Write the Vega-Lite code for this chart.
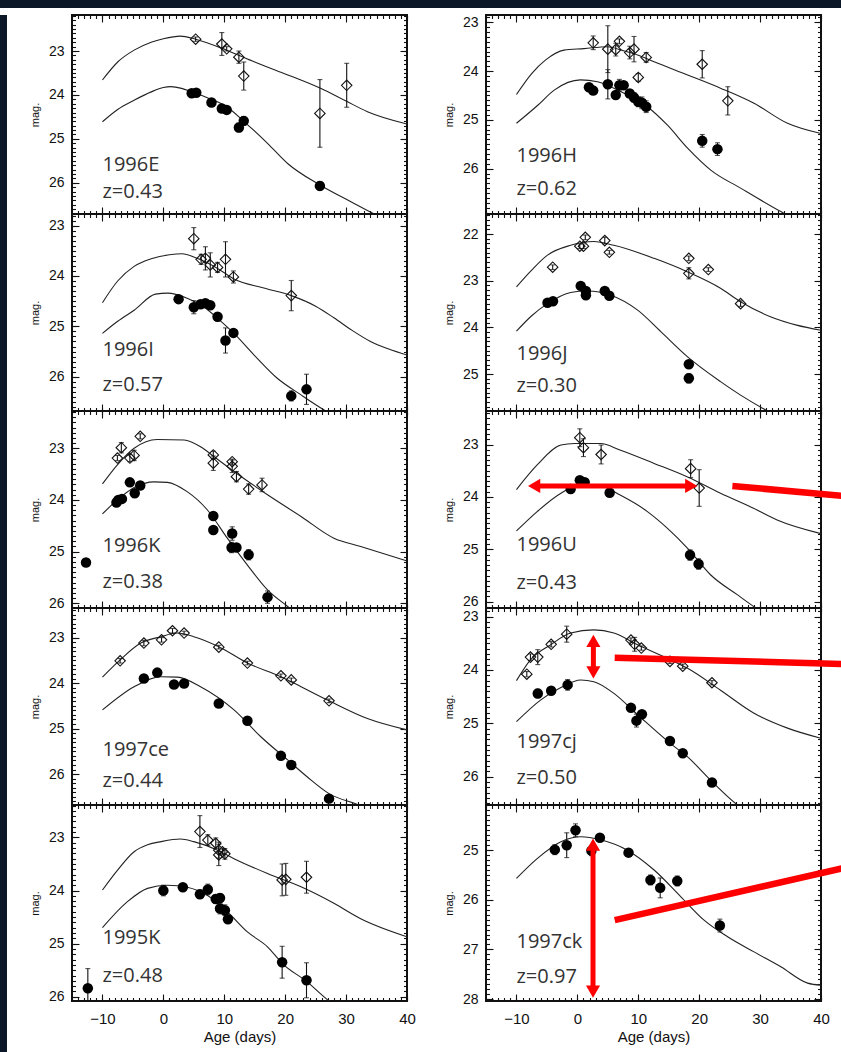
{
  "$schema": "https://vega.github.io/schema/vega-lite/v6.json",
  "background": "white",
  "padding": 0,
  "bounds": "flush",
  "spacing": 7,
  "config": {
    "view": {"stroke": "#111", "strokeWidth": 2},
    "axis": {"domain": false, "grid": false, "labelOverlap": false, "labelFlush": false, "labelBound": false, "tickColor": "#111", "tickWidth": 1.1, "labelFont": "Liberation Sans", "labelFontSize": 14, "labelColor": "#111", "titleFont": "Liberation Sans", "titleFontSize": 11, "titleFontWeight": "normal", "titleColor": "#111"}
  },
  "datasets": {
    "obs": [
      {"sn":"1996E","band":"u","age":5.3,"mag":22.73,"err":0.05},{"sn":"1996E","band":"u","age":9.6,"mag":22.84,"err":0.26},{"sn":"1996E","band":"u","age":10.4,"mag":22.95,"err":0.05},{"sn":"1996E","band":"u","age":12.4,"mag":23.14,"err":0.14},{"sn":"1996E","band":"u","age":13.2,"mag":23.57,"err":0.32},{"sn":"1996E","band":"u","age":25.7,"mag":24.42,"err":0.77},{"sn":"1996E","band":"u","age":30.1,"mag":23.78,"err":0.5},
      {"sn":"1996E","band":"l","age":4.65,"mag":23.96,"err":0.05},{"sn":"1996E","band":"l","age":5.4,"mag":23.95,"err":0.05},{"sn":"1996E","band":"l","age":7.9,"mag":24.17,"err":0},{"sn":"1996E","band":"l","age":9.6,"mag":24.31,"err":0.05},{"sn":"1996E","band":"l","age":10.4,"mag":24.34,"err":0.05},{"sn":"1996E","band":"l","age":12.4,"mag":24.74,"err":0.1},{"sn":"1996E","band":"l","age":13.2,"mag":24.59,"err":0.1},{"sn":"1996E","band":"l","age":25.7,"mag":26.07,"err":0.1},
      {"sn":"1996H","band":"u","age":2.6,"mag":23.42,"err":0.14},{"sn":"1996H","band":"u","age":5.0,"mag":23.55,"err":0.48},{"sn":"1996H","band":"u","age":6.3,"mag":23.56,"err":0.13},{"sn":"1996H","band":"u","age":6.9,"mag":23.39,"err":0.05},{"sn":"1996H","band":"u","age":8.6,"mag":23.62,"err":0.13},{"sn":"1996H","band":"u","age":9.3,"mag":23.55,"err":0.26},{"sn":"1996H","band":"u","age":10.0,"mag":24.13,"err":0.08},{"sn":"1996H","band":"u","age":11.3,"mag":23.72,"err":0.1},{"sn":"1996H","band":"u","age":20.5,"mag":23.86,"err":0.28},{"sn":"1996H","band":"u","age":24.7,"mag":24.61,"err":0.29},
      {"sn":"1996H","band":"l","age":1.9,"mag":24.33,"err":0.06},{"sn":"1996H","band":"l","age":2.6,"mag":24.4,"err":0.05},{"sn":"1996H","band":"l","age":5.0,"mag":24.27,"err":0.3},{"sn":"1996H","band":"l","age":6.3,"mag":24.49,"err":0.05},{"sn":"1996H","band":"l","age":6.9,"mag":24.29,"err":0.12},{"sn":"1996H","band":"l","age":7.6,"mag":24.29,"err":0.05},{"sn":"1996H","band":"l","age":8.6,"mag":24.46,"err":0.05},{"sn":"1996H","band":"l","age":9.3,"mag":24.54,"err":0.1},{"sn":"1996H","band":"l","age":10.0,"mag":24.63,"err":0.1},{"sn":"1996H","band":"l","age":10.6,"mag":24.65,"err":0.12},{"sn":"1996H","band":"l","age":11.3,"mag":24.73,"err":0.12},{"sn":"1996H","band":"l","age":20.5,"mag":25.43,"err":0.13},{"sn":"1996H","band":"l","age":23.0,"mag":25.6,"err":0.13},
      {"sn":"1996I","band":"u","age":5.0,"mag":23.26,"err":0.22},{"sn":"1996I","band":"u","age":6.2,"mag":23.67,"err":0.1},{"sn":"1996I","band":"u","age":6.9,"mag":23.65,"err":0.23},{"sn":"1996I","band":"u","age":7.7,"mag":23.78,"err":0.24},{"sn":"1996I","band":"u","age":8.9,"mag":23.83,"err":0.1},{"sn":"1996I","band":"u","age":10.2,"mag":23.67,"err":0.35},{"sn":"1996I","band":"u","age":11.5,"mag":24.02,"err":0.12},{"sn":"1996I","band":"u","age":21.0,"mag":24.39,"err":0.3},
      {"sn":"1996I","band":"l","age":2.5,"mag":24.46,"err":0},{"sn":"1996I","band":"l","age":5.0,"mag":24.62,"err":0.13},{"sn":"1996I","band":"l","age":6.1,"mag":24.56,"err":0},{"sn":"1996I","band":"l","age":6.9,"mag":24.54,"err":0},{"sn":"1996I","band":"l","age":7.7,"mag":24.58,"err":0},{"sn":"1996I","band":"l","age":8.9,"mag":24.81,"err":0.08},{"sn":"1996I","band":"l","age":10.2,"mag":25.28,"err":0.25},{"sn":"1996I","band":"l","age":11.5,"mag":25.13,"err":0},{"sn":"1996I","band":"l","age":21.0,"mag":26.38,"err":0.1},{"sn":"1996I","band":"l","age":23.5,"mag":26.25,"err":0.3},
      {"sn":"1996J","band":"u","age":-4.05,"mag":22.71,"err":0.05},{"sn":"1996J","band":"u","age":0.4,"mag":22.26,"err":0.05},{"sn":"1996J","band":"u","age":1.0,"mag":22.26,"err":0.05},{"sn":"1996J","band":"u","age":1.3,"mag":22.07,"err":0.05},{"sn":"1996J","band":"u","age":4.5,"mag":22.14,"err":0.07},{"sn":"1996J","band":"u","age":5.25,"mag":22.39,"err":0.04},{"sn":"1996J","band":"u","age":18.3,"mag":22.52,"err":0.05},{"sn":"1996J","band":"u","age":18.3,"mag":22.84,"err":0.12},{"sn":"1996J","band":"u","age":21.5,"mag":22.76,"err":0.04},{"sn":"1996J","band":"u","age":26.8,"mag":23.49,"err":0.06},
      {"sn":"1996J","band":"l","age":-4.9,"mag":23.47,"err":0},{"sn":"1996J","band":"l","age":-4.0,"mag":23.44,"err":0},{"sn":"1996J","band":"l","age":0.55,"mag":23.11,"err":0},{"sn":"1996J","band":"l","age":1.4,"mag":23.22,"err":0},{"sn":"1996J","band":"l","age":1.4,"mag":23.31,"err":0},{"sn":"1996J","band":"l","age":4.5,"mag":23.22,"err":0},{"sn":"1996J","band":"l","age":5.25,"mag":23.32,"err":0},{"sn":"1996J","band":"l","age":18.3,"mag":24.79,"err":0},{"sn":"1996J","band":"l","age":18.3,"mag":25.09,"err":0.1},
      {"sn":"1996K","band":"u","age":-7.55,"mag":23.19,"err":0.05},{"sn":"1996K","band":"u","age":-6.9,"mag":22.99,"err":0.1},{"sn":"1996K","band":"u","age":-5.5,"mag":23.19,"err":0.07},{"sn":"1996K","band":"u","age":-4.8,"mag":23.14,"err":0.1},{"sn":"1996K","band":"u","age":-3.8,"mag":22.77,"err":0.05},{"sn":"1996K","band":"u","age":8.2,"mag":23.13,"err":0.07},{"sn":"1996K","band":"u","age":8.2,"mag":23.29,"err":0.14},{"sn":"1996K","band":"u","age":11.3,"mag":23.26,"err":0.05},{"sn":"1996K","band":"u","age":11.3,"mag":23.35,"err":0.12},{"sn":"1996K","band":"u","age":12.0,"mag":23.55,"err":0.1},{"sn":"1996K","band":"u","age":14.0,"mag":23.79,"err":0.1},{"sn":"1996K","band":"u","age":16.2,"mag":23.71,"err":0.13},
      {"sn":"1996K","band":"l","age":-12.7,"mag":25.21,"err":0},{"sn":"1996K","band":"l","age":-7.7,"mag":24.05,"err":0},{"sn":"1996K","band":"l","age":-7.4,"mag":24.0,"err":0},{"sn":"1996K","band":"l","age":-6.8,"mag":23.98,"err":0},{"sn":"1996K","band":"l","age":-5.5,"mag":23.66,"err":0},{"sn":"1996K","band":"l","age":-4.7,"mag":23.87,"err":0},{"sn":"1996K","band":"l","age":-3.8,"mag":23.72,"err":0},{"sn":"1996K","band":"l","age":8.2,"mag":24.31,"err":0},{"sn":"1996K","band":"l","age":8.2,"mag":24.58,"err":0},{"sn":"1996K","band":"l","age":11.3,"mag":24.65,"err":0.13},{"sn":"1996K","band":"l","age":11.2,"mag":24.92,"err":0.1},{"sn":"1996K","band":"l","age":12.0,"mag":24.92,"err":0},{"sn":"1996K","band":"l","age":14.0,"mag":25.06,"err":0.1},{"sn":"1996K","band":"l","age":17.1,"mag":25.88,"err":0.12},
      {"sn":"1996U","band":"u","age":0.4,"mag":22.87,"err":0.17},{"sn":"1996U","band":"u","age":1.0,"mag":23.06,"err":0.17},{"sn":"1996U","band":"u","age":3.9,"mag":23.19,"err":0.18},{"sn":"1996U","band":"u","age":18.6,"mag":23.46,"err":0.17},{"sn":"1996U","band":"u","age":20.0,"mag":23.83,"err":0.35},
      {"sn":"1996U","band":"l","age":-1.1,"mag":23.85,"err":0},{"sn":"1996U","band":"l","age":0.4,"mag":23.68,"err":0},{"sn":"1996U","band":"l","age":1.2,"mag":23.72,"err":0},{"sn":"1996U","band":"l","age":5.3,"mag":23.92,"err":0},{"sn":"1996U","band":"l","age":18.5,"mag":25.11,"err":0.1},{"sn":"1996U","band":"l","age":19.9,"mag":25.28,"err":0.1},
      {"sn":"1997ce","band":"u","age":-7.1,"mag":23.51,"err":0.05},{"sn":"1997ce","band":"u","age":-3.2,"mag":23.12,"err":0.06},{"sn":"1997ce","band":"u","age":-0.3,"mag":23.05,"err":0.05},{"sn":"1997ce","band":"u","age":1.5,"mag":22.85,"err":0.05},{"sn":"1997ce","band":"u","age":3.4,"mag":22.9,"err":0.04},{"sn":"1997ce","band":"u","age":9.1,"mag":23.21,"err":0.04},{"sn":"1997ce","band":"u","age":13.8,"mag":23.56,"err":0.04},{"sn":"1997ce","band":"u","age":19.3,"mag":23.84,"err":0.04},{"sn":"1997ce","band":"u","age":21.0,"mag":23.93,"err":0.04},{"sn":"1997ce","band":"u","age":27.2,"mag":24.39,"err":0.04},
      {"sn":"1997ce","band":"l","age":-3.2,"mag":23.9,"err":0},{"sn":"1997ce","band":"l","age":-1.0,"mag":23.77,"err":0},{"sn":"1997ce","band":"l","age":1.75,"mag":24.03,"err":0},{"sn":"1997ce","band":"l","age":3.4,"mag":24.01,"err":0},{"sn":"1997ce","band":"l","age":9.1,"mag":24.45,"err":0},{"sn":"1997ce","band":"l","age":13.8,"mag":24.83,"err":0},{"sn":"1997ce","band":"l","age":19.3,"mag":25.6,"err":0},{"sn":"1997ce","band":"l","age":21.0,"mag":25.8,"err":0},{"sn":"1997ce","band":"l","age":27.2,"mag":26.54,"err":0},
      {"sn":"1997cj","band":"u","age":-8.3,"mag":24.08,"err":0.05},{"sn":"1997cj","band":"u","age":-7.7,"mag":23.76,"err":0.06},{"sn":"1997cj","band":"u","age":-6.5,"mag":23.76,"err":0.14},{"sn":"1997cj","band":"u","age":-4.3,"mag":23.52,"err":0.05},{"sn":"1997cj","band":"u","age":-1.75,"mag":23.33,"err":0.15},{"sn":"1997cj","band":"u","age":8.8,"mag":23.44,"err":0.04},{"sn":"1997cj","band":"u","age":9.4,"mag":23.52,"err":0.13},{"sn":"1997cj","band":"u","age":10.5,"mag":23.59,"err":0.04},{"sn":"1997cj","band":"u","age":15.2,"mag":23.84,"err":0.04},{"sn":"1997cj","band":"u","age":17.3,"mag":23.93,"err":0.04},{"sn":"1997cj","band":"u","age":22.1,"mag":24.24,"err":0.04},
      {"sn":"1997cj","band":"l","age":-6.5,"mag":24.44,"err":0.08},{"sn":"1997cj","band":"l","age":-4.3,"mag":24.39,"err":0},{"sn":"1997cj","band":"l","age":-1.6,"mag":24.28,"err":0.1},{"sn":"1997cj","band":"l","age":8.8,"mag":24.71,"err":0},{"sn":"1997cj","band":"l","age":9.7,"mag":24.95,"err":0.12},{"sn":"1997cj","band":"l","age":10.6,"mag":24.83,"err":0},{"sn":"1997cj","band":"l","age":15.2,"mag":25.33,"err":0},{"sn":"1997cj","band":"l","age":17.3,"mag":25.56,"err":0},{"sn":"1997cj","band":"l","age":22.1,"mag":26.11,"err":0},
      {"sn":"1995K","band":"u","age":6.0,"mag":22.89,"err":0.3},{"sn":"1995K","band":"u","age":7.3,"mag":23.05,"err":0.1},{"sn":"1995K","band":"u","age":8.6,"mag":23.11,"err":0.1},{"sn":"1995K","band":"u","age":9.1,"mag":23.24,"err":0.15},{"sn":"1995K","band":"u","age":9.1,"mag":23.33,"err":0.2},{"sn":"1995K","band":"u","age":9.7,"mag":23.27,"err":0.05},{"sn":"1995K","band":"u","age":10.1,"mag":23.31,"err":0.1},{"sn":"1995K","band":"u","age":19.5,"mag":23.8,"err":0.3},{"sn":"1995K","band":"u","age":20.1,"mag":23.79,"err":0.3},{"sn":"1995K","band":"u","age":23.5,"mag":23.75,"err":0.3},
      {"sn":"1995K","band":"l","age":-12.4,"mag":25.84,"err":0.37},{"sn":"1995K","band":"l","age":0.0,"mag":24.0,"err":0.1},{"sn":"1995K","band":"l","age":3.2,"mag":23.94,"err":0},{"sn":"1995K","band":"l","age":6.0,"mag":24.07,"err":0.08},{"sn":"1995K","band":"l","age":7.3,"mag":23.98,"err":0.1},{"sn":"1995K","band":"l","age":8.6,"mag":24.16,"err":0.08},{"sn":"1995K","band":"l","age":9.3,"mag":24.14,"err":0.08},{"sn":"1995K","band":"l","age":9.3,"mag":24.34,"err":0.1},{"sn":"1995K","band":"l","age":10.1,"mag":24.37,"err":0.1},{"sn":"1995K","band":"l","age":10.6,"mag":24.54,"err":0.05},{"sn":"1995K","band":"l","age":19.5,"mag":25.35,"err":0.3},{"sn":"1995K","band":"l","age":23.5,"mag":25.69,"err":0.33},
      {"sn":"1997ck","band":"l","age":-3.7,"mag":24.99,"err":0.1},{"sn":"1997ck","band":"l","age":-1.75,"mag":24.9,"err":0.25},{"sn":"1997ck","band":"l","age":-0.3,"mag":24.6,"err":0.13},{"sn":"1997ck","band":"l","age":2.3,"mag":25.01,"err":0.1},{"sn":"1997ck","band":"l","age":3.7,"mag":24.75,"err":0},{"sn":"1997ck","band":"l","age":8.4,"mag":25.05,"err":0},{"sn":"1997ck","band":"l","age":12.0,"mag":25.6,"err":0.1},{"sn":"1997ck","band":"l","age":13.6,"mag":25.76,"err":0.2},{"sn":"1997ck","band":"l","age":16.4,"mag":25.62,"err":0.1},{"sn":"1997ck","band":"l","age":23.4,"mag":26.52,"err":0.13}
    ],
    "model": [
      {"sn":"1996E","band":"u","age":-10,"mag":23.66},{"sn":"1996E","band":"u","age":-7.5,"mag":23.25},{"sn":"1996E","band":"u","age":-4.8,"mag":22.98},{"sn":"1996E","band":"u","age":-2,"mag":22.8},{"sn":"1996E","band":"u","age":0,"mag":22.72},{"sn":"1996E","band":"u","age":2.8,"mag":22.66},{"sn":"1996E","band":"u","age":5.3,"mag":22.73},{"sn":"1996E","band":"u","age":10.4,"mag":22.98},{"sn":"1996E","band":"u","age":15,"mag":23.25},{"sn":"1996E","band":"u","age":19.8,"mag":23.51},{"sn":"1996E","band":"u","age":25.8,"mag":23.85},{"sn":"1996E","band":"u","age":30,"mag":24.14},{"sn":"1996E","band":"u","age":33.5,"mag":24.38},{"sn":"1996E","band":"u","age":40,"mag":24.66},
      {"sn":"1996E","band":"l","age":-10,"mag":24.61},{"sn":"1996E","band":"l","age":-7.5,"mag":24.33},{"sn":"1996E","band":"l","age":-4.8,"mag":24.12},{"sn":"1996E","band":"l","age":-2,"mag":23.93},{"sn":"1996E","band":"l","age":0,"mag":23.83},{"sn":"1996E","band":"l","age":1.2,"mag":23.81},{"sn":"1996E","band":"l","age":3,"mag":23.85},{"sn":"1996E","band":"l","age":4.65,"mag":23.93},{"sn":"1996E","band":"l","age":7.5,"mag":24.08},{"sn":"1996E","band":"l","age":10.4,"mag":24.27},{"sn":"1996E","band":"l","age":13.2,"mag":24.6},{"sn":"1996E","band":"l","age":17.1,"mag":25.1},{"sn":"1996E","band":"l","age":20.4,"mag":25.56},{"sn":"1996E","band":"l","age":25.7,"mag":26.05},{"sn":"1996E","band":"l","age":30.8,"mag":26.43},{"sn":"1996E","band":"l","age":35.1,"mag":26.74},{"sn":"1996E","band":"l","age":40,"mag":27.0},
      {"sn":"1996H","band":"u","age":-10,"mag":24.48},{"sn":"1996H","band":"u","age":-7.5,"mag":24.05},{"sn":"1996H","band":"u","age":-5.2,"mag":23.77},{"sn":"1996H","band":"u","age":-2.2,"mag":23.57},{"sn":"1996H","band":"u","age":1.1,"mag":23.54},{"sn":"1996H","band":"u","age":4.9,"mag":23.5},{"sn":"1996H","band":"u","age":7.5,"mag":23.58},{"sn":"1996H","band":"u","age":9.9,"mag":23.67},{"sn":"1996H","band":"u","age":12.6,"mag":23.81},{"sn":"1996H","band":"u","age":18.1,"mag":24.08},{"sn":"1996H","band":"u","age":23.5,"mag":24.35},{"sn":"1996H","band":"u","age":29,"mag":24.66},{"sn":"1996H","band":"u","age":34.5,"mag":25.07},{"sn":"1996H","band":"u","age":40,"mag":25.28},
      {"sn":"1996H","band":"l","age":-10,"mag":25.07},{"sn":"1996H","band":"l","age":-6.5,"mag":24.7},{"sn":"1996H","band":"l","age":-3.8,"mag":24.39},{"sn":"1996H","band":"l","age":0.5,"mag":24.18},{"sn":"1996H","band":"l","age":3.3,"mag":24.22},{"sn":"1996H","band":"l","age":7.1,"mag":24.42},{"sn":"1996H","band":"l","age":11.5,"mag":24.73},{"sn":"1996H","band":"l","age":14.8,"mag":25.11},{"sn":"1996H","band":"l","age":18.1,"mag":25.58},{"sn":"1996H","band":"l","age":21.9,"mag":26.03},{"sn":"1996H","band":"l","age":26.8,"mag":26.4},{"sn":"1996H","band":"l","age":33.4,"mag":26.88},{"sn":"1996H","band":"l","age":40,"mag":27.3},
      {"sn":"1996I","band":"u","age":-10,"mag":24.53},{"sn":"1996I","band":"u","age":-7.5,"mag":24.1},{"sn":"1996I","band":"u","age":-4.8,"mag":23.81},{"sn":"1996I","band":"u","age":-2,"mag":23.66},{"sn":"1996I","band":"u","age":1,"mag":23.58},{"sn":"1996I","band":"u","age":3.1,"mag":23.56},{"sn":"1996I","band":"u","age":5.3,"mag":23.64},{"sn":"1996I","band":"u","age":8.9,"mag":23.85},{"sn":"1996I","band":"u","age":11.6,"mag":24.06},{"sn":"1996I","band":"u","age":16.5,"mag":24.24},{"sn":"1996I","band":"u","age":21,"mag":24.39},{"sn":"1996I","band":"u","age":25,"mag":24.6},{"sn":"1996I","band":"u","age":28,"mag":24.83},{"sn":"1996I","band":"u","age":31,"mag":25.08},{"sn":"1996I","band":"u","age":34,"mag":25.3},{"sn":"1996I","band":"u","age":37,"mag":25.45},{"sn":"1996I","band":"u","age":40,"mag":25.57},
      {"sn":"1996I","band":"l","age":-10,"mag":25.14},{"sn":"1996I","band":"l","age":-7.5,"mag":24.9},{"sn":"1996I","band":"l","age":-4.8,"mag":24.68},{"sn":"1996I","band":"l","age":-1.3,"mag":24.36},{"sn":"1996I","band":"l","age":0.7,"mag":24.34},{"sn":"1996I","band":"l","age":3.9,"mag":24.44},{"sn":"1996I","band":"l","age":6.5,"mag":24.6},{"sn":"1996I","band":"l","age":8.9,"mag":24.84},{"sn":"1996I","band":"l","age":11.6,"mag":25.14},{"sn":"1996I","band":"l","age":14.9,"mag":25.57},{"sn":"1996I","band":"l","age":18.7,"mag":26.03},{"sn":"1996I","band":"l","age":22.6,"mag":26.36},{"sn":"1996I","band":"l","age":26.4,"mag":26.66},{"sn":"1996I","band":"l","age":30,"mag":26.9},
      {"sn":"1996J","band":"u","age":-10,"mag":23.13},{"sn":"1996J","band":"u","age":-7.5,"mag":22.77},{"sn":"1996J","band":"u","age":-4.9,"mag":22.45},{"sn":"1996J","band":"u","age":-1.1,"mag":22.24},{"sn":"1996J","band":"u","age":2.7,"mag":22.16},{"sn":"1996J","band":"u","age":6,"mag":22.24},{"sn":"1996J","band":"u","age":12.6,"mag":22.52},{"sn":"1996J","band":"u","age":18.1,"mag":22.81},{"sn":"1996J","band":"u","age":23.5,"mag":23.16},{"sn":"1996J","band":"u","age":26.8,"mag":23.45},{"sn":"1996J","band":"u","age":31.7,"mag":23.77},{"sn":"1996J","band":"u","age":36,"mag":23.95},{"sn":"1996J","band":"u","age":40,"mag":24.06},
      {"sn":"1996J","band":"l","age":-10,"mag":24.08},{"sn":"1996J","band":"l","age":-7.5,"mag":23.75},{"sn":"1996J","band":"l","age":-4.9,"mag":23.49},{"sn":"1996J","band":"l","age":-1.1,"mag":23.25},{"sn":"1996J","band":"l","age":1.6,"mag":23.22},{"sn":"1996J","band":"l","age":5.5,"mag":23.31},{"sn":"1996J","band":"l","age":9.9,"mag":23.63},{"sn":"1996J","band":"l","age":13.7,"mag":24.09},{"sn":"1996J","band":"l","age":18.1,"mag":24.63},{"sn":"1996J","band":"l","age":23.5,"mag":25.16},{"sn":"1996J","band":"l","age":26.8,"mag":25.45},{"sn":"1996J","band":"l","age":31.2,"mag":25.79},{"sn":"1996J","band":"l","age":35,"mag":26.05},
      {"sn":"1996K","band":"u","age":-10,"mag":23.69},{"sn":"1996K","band":"u","age":-7.55,"mag":23.32},{"sn":"1996K","band":"u","age":-4.8,"mag":23.0},{"sn":"1996K","band":"u","age":-1,"mag":22.83},{"sn":"1996K","band":"u","age":3.4,"mag":22.84},{"sn":"1996K","band":"u","age":6.1,"mag":22.97},{"sn":"1996K","band":"u","age":8.3,"mag":23.16},{"sn":"1996K","band":"u","age":11.6,"mag":23.45},{"sn":"1996K","band":"u","age":17.1,"mag":23.9},{"sn":"1996K","band":"u","age":22.6,"mag":24.32},{"sn":"1996K","band":"u","age":28,"mag":24.74},{"sn":"1996K","band":"u","age":32.4,"mag":24.9},{"sn":"1996K","band":"u","age":40,"mag":25.18},
      {"sn":"1996K","band":"l","age":-10,"mag":24.27},{"sn":"1996K","band":"l","age":-7.55,"mag":24.0},{"sn":"1996K","band":"l","age":-4.8,"mag":23.76},{"sn":"1996K","band":"l","age":-1.5,"mag":23.65},{"sn":"1996K","band":"l","age":0.66,"mag":23.66},{"sn":"1996K","band":"l","age":3.9,"mag":23.84},{"sn":"1996K","band":"l","age":7.2,"mag":24.19},{"sn":"1996K","band":"l","age":10.5,"mag":24.74},{"sn":"1996K","band":"l","age":13.8,"mag":25.26},{"sn":"1996K","band":"l","age":17.1,"mag":25.74},{"sn":"1996K","band":"l","age":20.4,"mag":26.06},{"sn":"1996K","band":"l","age":23,"mag":26.3},
      {"sn":"1996U","band":"u","age":-10,"mag":23.86},{"sn":"1996U","band":"u","age":-6.6,"mag":23.39},{"sn":"1996U","band":"u","age":-2.7,"mag":23.01},{"sn":"1996U","band":"u","age":-0.5,"mag":22.98},{"sn":"1996U","band":"u","age":3.8,"mag":22.98},{"sn":"1996U","band":"u","age":7.1,"mag":23.11},{"sn":"1996U","band":"u","age":12.6,"mag":23.36},{"sn":"1996U","band":"u","age":18.1,"mag":23.62},{"sn":"1996U","band":"u","age":23.5,"mag":23.93},{"sn":"1996U","band":"u","age":29,"mag":24.22},{"sn":"1996U","band":"u","age":32.8,"mag":24.44},{"sn":"1996U","band":"u","age":40,"mag":24.7},
      {"sn":"1996U","band":"l","age":-10,"mag":24.65},{"sn":"1996U","band":"l","age":-6.6,"mag":24.28},{"sn":"1996U","band":"l","age":-2.7,"mag":23.93},{"sn":"1996U","band":"l","age":0.5,"mag":23.77},{"sn":"1996U","band":"l","age":3.3,"mag":23.77},{"sn":"1996U","band":"l","age":7.1,"mag":23.97},{"sn":"1996U","band":"l","age":11.5,"mag":24.28},{"sn":"1996U","band":"l","age":14.8,"mag":24.6},{"sn":"1996U","band":"l","age":18.1,"mag":24.98},{"sn":"1996U","band":"l","age":21.9,"mag":25.49},{"sn":"1996U","band":"l","age":26.3,"mag":25.87},{"sn":"1996U","band":"l","age":29.3,"mag":26.12},{"sn":"1996U","band":"l","age":33,"mag":26.4},
      {"sn":"1997ce","band":"u","age":-10,"mag":23.87},{"sn":"1997ce","band":"u","age":-7.1,"mag":23.49},{"sn":"1997ce","band":"u","age":-3.7,"mag":23.12},{"sn":"1997ce","band":"u","age":-0.4,"mag":22.98},{"sn":"1997ce","band":"u","age":2.3,"mag":22.9},{"sn":"1997ce","band":"u","age":5,"mag":22.98},{"sn":"1997ce","band":"u","age":9.1,"mag":23.2},{"sn":"1997ce","band":"u","age":13.8,"mag":23.56},{"sn":"1997ce","band":"u","age":19.3,"mag":23.86},{"sn":"1997ce","band":"u","age":22.6,"mag":24.08},{"sn":"1997ce","band":"u","age":27.2,"mag":24.39},{"sn":"1997ce","band":"u","age":33.5,"mag":24.78},{"sn":"1997ce","band":"u","age":40,"mag":25.03},
      {"sn":"1997ce","band":"l","age":-10,"mag":24.59},{"sn":"1997ce","band":"l","age":-4.8,"mag":24.08},{"sn":"1997ce","band":"l","age":-0.4,"mag":23.86},{"sn":"1997ce","band":"l","age":2.3,"mag":23.87},{"sn":"1997ce","band":"l","age":6.1,"mag":24.08},{"sn":"1997ce","band":"l","age":11.6,"mag":24.59},{"sn":"1997ce","band":"l","age":16,"mag":25.18},{"sn":"1997ce","band":"l","age":20.4,"mag":25.69},{"sn":"1997ce","band":"l","age":23.6,"mag":26.06},{"sn":"1997ce","band":"l","age":27.2,"mag":26.43},{"sn":"1997ce","band":"l","age":32.1,"mag":26.68},{"sn":"1997ce","band":"l","age":36,"mag":26.9},
      {"sn":"1997cj","band":"u","age":-10,"mag":24.2},{"sn":"1997cj","band":"u","age":-7.7,"mag":23.81},{"sn":"1997cj","band":"u","age":-4.4,"mag":23.53},{"sn":"1997cj","band":"u","age":-1.1,"mag":23.31},{"sn":"1997cj","band":"u","age":2.7,"mag":23.25},{"sn":"1997cj","band":"u","age":6,"mag":23.31},{"sn":"1997cj","band":"u","age":9.9,"mag":23.53},{"sn":"1997cj","band":"u","age":15.3,"mag":23.81},{"sn":"1997cj","band":"u","age":18.1,"mag":23.97},{"sn":"1997cj","band":"u","age":23.5,"mag":24.38},{"sn":"1997cj","band":"u","age":29,"mag":24.81},{"sn":"1997cj","band":"u","age":34.5,"mag":25.09},{"sn":"1997cj","band":"u","age":40,"mag":25.28},
      {"sn":"1997cj","band":"l","age":-10,"mag":24.97},{"sn":"1997cj","band":"l","age":-6,"mag":24.56},{"sn":"1997cj","band":"l","age":-2.7,"mag":24.33},{"sn":"1997cj","band":"l","age":0.55,"mag":24.19},{"sn":"1997cj","band":"l","age":2.7,"mag":24.22},{"sn":"1997cj","band":"l","age":6,"mag":24.44},{"sn":"1997cj","band":"l","age":9.9,"mag":24.84},{"sn":"1997cj","band":"l","age":15.3,"mag":25.38},{"sn":"1997cj","band":"l","age":18.1,"mag":25.63},{"sn":"1997cj","band":"l","age":22.1,"mag":26.09},{"sn":"1997cj","band":"l","age":26.3,"mag":26.53},{"sn":"1997cj","band":"l","age":30,"mag":26.8},
      {"sn":"1995K","band":"u","age":-10,"mag":23.99},{"sn":"1995K","band":"u","age":-7.55,"mag":23.62},{"sn":"1995K","band":"u","age":-4.8,"mag":23.27},{"sn":"1995K","band":"u","age":-2.6,"mag":23.14},{"sn":"1995K","band":"u","age":-0.4,"mag":23.08},{"sn":"1995K","band":"u","age":2.8,"mag":23.03},{"sn":"1995K","band":"u","age":5,"mag":23.08},{"sn":"1995K","band":"u","age":8.9,"mag":23.24},{"sn":"1995K","band":"u","age":11.6,"mag":23.4},{"sn":"1995K","band":"u","age":17.1,"mag":23.68},{"sn":"1995K","band":"u","age":22.6,"mag":23.93},{"sn":"1995K","band":"u","age":28,"mag":24.24},{"sn":"1995K","band":"u","age":32.4,"mag":24.53},{"sn":"1995K","band":"u","age":40,"mag":24.87},
      {"sn":"1995K","band":"l","age":-10,"mag":24.7},{"sn":"1995K","band":"l","age":-5.9,"mag":24.21},{"sn":"1995K","band":"l","age":-2.6,"mag":23.96},{"sn":"1995K","band":"l","age":0.66,"mag":23.9},{"sn":"1995K","band":"l","age":3.9,"mag":23.94},{"sn":"1995K","band":"l","age":7.2,"mag":24.09},{"sn":"1995K","band":"l","age":10.5,"mag":24.4},{"sn":"1995K","band":"l","age":13.8,"mag":24.78},{"sn":"1995K","band":"l","age":17.1,"mag":25.06},{"sn":"1995K","band":"l","age":19.5,"mag":25.37},{"sn":"1995K","band":"l","age":23.6,"mag":25.72},{"sn":"1995K","band":"l","age":27.2,"mag":26.08},{"sn":"1995K","band":"l","age":30,"mag":26.3},
      {"sn":"1997ck","band":"l","age":-10,"mag":25.57},{"sn":"1997ck","band":"l","age":-6.6,"mag":25.17},{"sn":"1997ck","band":"l","age":-2.7,"mag":24.83},{"sn":"1997ck","band":"l","age":0.55,"mag":24.73},{"sn":"1997ck","band":"l","age":3.8,"mag":24.79},{"sn":"1997ck","band":"l","age":8.2,"mag":25.0},{"sn":"1997ck","band":"l","age":12.6,"mag":25.4},{"sn":"1997ck","band":"l","age":17,"mag":25.94},{"sn":"1997ck","band":"l","age":20.8,"mag":26.41},{"sn":"1997ck","band":"l","age":24.6,"mag":26.74},{"sn":"1997ck","band":"l","age":29,"mag":27.05},{"sn":"1997ck","band":"l","age":33.4,"mag":27.35},{"sn":"1997ck","band":"l","age":37.8,"mag":27.68},{"sn":"1997ck","band":"l","age":40,"mag":27.72}
    ],
    "notes": [
      {"sn":"1996E","t":"1996E","age":-10,"mag":25.72},{"sn":"1996E","t":"z=0.43","age":-10,"mag":26.34},
      {"sn":"1996H","t":"1996H","age":-10,"mag":25.86},{"sn":"1996H","t":"z=0.62","age":-10,"mag":26.54},
      {"sn":"1996I","t":"1996I","age":-10,"mag":25.58},{"sn":"1996I","t":"z=0.57","age":-10,"mag":26.28},
      {"sn":"1996J","t":"1996J","age":-10,"mag":24.7},{"sn":"1996J","t":"z=0.30","age":-10,"mag":25.38},
      {"sn":"1996K","t":"1996K","age":-10,"mag":25.0},{"sn":"1996K","t":"z=0.38","age":-10,"mag":25.71},
      {"sn":"1996U","t":"1996U","age":-10,"mag":25.03},{"sn":"1996U","t":"z=0.43","age":-10,"mag":25.75},
      {"sn":"1997ce","t":"1997ce","age":-10,"mag":25.6},{"sn":"1997ce","t":"z=0.44","age":-10,"mag":26.29},
      {"sn":"1997cj","t":"1997cj","age":-10,"mag":25.46},{"sn":"1997cj","t":"z=0.50","age":-10,"mag":26.14},
      {"sn":"1995K","t":"1995K","age":-10,"mag":25.01},{"sn":"1995K","t":"z=0.48","age":-10,"mag":25.72},
      {"sn":"1997ck","t":"1997ck","age":-10,"mag":26.98},{"sn":"1997ck","t":"z=0.97","age":-10,"mag":27.68}
    ],
    "red": [
      {"sn":"1996U","kind":"shaft","age":-7.1,"mag":23.79,"age2":18.7,"mag2":23.79},
      {"sn":"1996U","kind":"pointer","age":25.45,"mag":23.79,"age2":43.4,"mag2":23.98},
      {"sn":"1997cj","kind":"shaft","age":2.63,"mag":23.45,"age2":2.63,"mag2":24.05},
      {"sn":"1997cj","kind":"pointer","age":6.13,"mag":23.77,"age2":43.4,"mag2":23.89},
      {"sn":"1997ck","kind":"shaft","age":2.57,"mag":24.89,"age2":2.57,"mag2":27.85},
      {"sn":"1997ck","kind":"pointer","age":6.13,"mag":26.41,"age2":43.4,"mag2":25.37}
    ],
    "heads": [
      {"sn":"1996U","dir":"left","age":-7.1,"mag":23.79},{"sn":"1996U","dir":"right","age":18.7,"mag":23.79},
      {"sn":"1997cj","dir":"up","age":2.63,"mag":23.454},{"sn":"1997cj","dir":"down","age":2.63,"mag":24.046},
      {"sn":"1997ck","dir":"up","age":2.57,"mag":24.89},{"sn":"1997ck","dir":"down","age":2.57,"mag":27.85}
    ]
  },
  "vconcat": [
    {"width": 841, "height": 8, "view": {"fill": "#0b1727", "stroke": null}, "data": {"values": [{}]}, "mark": {"type": "rect", "color": "#0b1727"}},
    {
      "bounds": "flush",
      "spacing": 65,
      "hconcat": [
        {"width": 7, "height": 1037, "view": {"fill": "#0b1727", "stroke": null}, "data": {"values": [{}]}, "mark": {"type": "rect", "color": "#0b1727"}},
        {
          "bounds": "flush",
          "columns": 2,
          "spacing": {"row": 0, "column": 79},
          "concat": [
            {
              "width": 335, "height": 199,
              "encoding": {
                "x": {"field": "age", "type": "quantitative", "scale": {"domain": [-15, 40], "nice": false, "zero": false}, "axis": null},
                "y": {"field": "mag", "type": "quantitative", "scale": {"domain": [22.18, 26.71], "reverse": true, "nice": false, "zero": false}, "axis": null}
              },
              "layer": [
                {"data": {"name": "model"}, "transform": [{"filter": "datum.sn === '1996E'"}], "mark": {"type": "line", "clip": true, "color": "#222", "strokeWidth": 1.1, "interpolate": "monotone"},
                 "encoding": {"detail": {"field": "band"},
                   "x": {"field": "age", "type": "quantitative", "scale": {"domain": [-15, 40], "nice": false, "zero": false}, "axis": {"orient": "bottom", "tickCount": 6, "tickSize": -7, "labels": false, "title": null}},
                   "y": {"field": "mag", "type": "quantitative", "scale": {"domain": [22.18, 26.71], "reverse": true, "nice": false, "zero": false}, "axis": {"orient": "left", "tickCount": 5, "tickSize": -7, "format": "d", "labelPadding": 15, "title": "mag.", "titlePadding": 8}}}},
                {"data": {"name": "obs"}, "transform": [{"filter": "datum.sn === '1996E' && datum.err > 0"}], "mark": {"type": "errorbar", "clip": true, "color": "#111", "thickness": 1.1, "ticks": {"size": 5}}, "encoding": {"yError": {"field": "err"}}},
                {"data": {"name": "obs"}, "transform": [{"filter": "datum.sn === '1996E' && datum.band === 'u'"}], "mark": {"type": "point", "shape": "diamond", "filled": false, "size": 110, "strokeWidth": 1.1, "color": "#111", "opacity": 1},
                 "encoding": {
                   "x": {"field": "age", "type": "quantitative", "scale": {"domain": [-15, 40], "nice": false, "zero": false}, "axis": {"orient": "bottom", "tickCount": 55, "tickSize": -3.5, "labels": false, "title": null}},
                   "y": {"field": "mag", "type": "quantitative", "scale": {"domain": [22.18, 26.71], "reverse": true, "nice": false, "zero": false}, "axis": {"orient": "left", "tickCount": 40, "tickSize": -3.5, "labels": false, "title": null}}}},
                {"data": {"name": "obs"}, "transform": [{"filter": "datum.sn === '1996E' && datum.band === 'l'"}], "mark": {"type": "point", "shape": "circle", "filled": true, "size": 110, "color": "#000", "opacity": 1},
                 "encoding": {
                   "x": {"field": "age", "type": "quantitative", "scale": {"domain": [-15, 40], "nice": false, "zero": false}, "axis": {"orient": "top", "tickCount": 6, "tickSize": -7, "labels": false, "title": null}},
                   "y": {"field": "mag", "type": "quantitative", "scale": {"domain": [22.18, 26.71], "reverse": true, "nice": false, "zero": false}, "axis": {"orient": "right", "tickCount": 5, "tickSize": -7, "labels": false, "title": null}}}},
                {"data": {"name": "notes"}, "transform": [{"filter": "datum.sn === '1996E'"}], "mark": {"type": "text", "align": "left", "baseline": "alphabetic", "font": "Open Sans", "fontSize": 20, "color": "#333"},
                 "encoding": {"text": {"field": "t"},
                   "x": {"field": "age", "type": "quantitative", "scale": {"domain": [-15, 40], "nice": false, "zero": false}, "axis": {"orient": "top", "tickCount": 55, "tickSize": -3.5, "labels": false, "title": null}},
                   "y": {"field": "mag", "type": "quantitative", "scale": {"domain": [22.18, 26.71], "reverse": true, "nice": false, "zero": false}, "axis": {"orient": "right", "tickCount": 40, "tickSize": -3.5, "labels": false, "title": null}}}}
              ],
              "resolve": {"axis": {"x": "independent", "y": "independent"}}
            },
            {
              "width": 335, "height": 199,
              "encoding": {
                "x": {"field": "age", "type": "quantitative", "scale": {"domain": [-15, 40], "nice": false, "zero": false}, "axis": null},
                "y": {"field": "mag", "type": "quantitative", "scale": {"domain": [22.85, 26.93], "reverse": true, "nice": false, "zero": false}, "axis": null}
              },
              "layer": [
                {"data": {"name": "model"}, "transform": [{"filter": "datum.sn === '1996H'"}], "mark": {"type": "line", "clip": true, "color": "#222", "strokeWidth": 1.1, "interpolate": "monotone"},
                 "encoding": {"detail": {"field": "band"},
                   "x": {"field": "age", "type": "quantitative", "scale": {"domain": [-15, 40], "nice": false, "zero": false}, "axis": {"orient": "bottom", "tickCount": 6, "tickSize": -7, "labels": false, "title": null}},
                   "y": {"field": "mag", "type": "quantitative", "scale": {"domain": [22.85, 26.93], "reverse": true, "nice": false, "zero": false}, "axis": {"orient": "left", "tickCount": 5, "tickSize": -7, "format": "d", "labelPadding": 15, "title": "mag.", "titlePadding": 8}}}},
                {"data": {"name": "obs"}, "transform": [{"filter": "datum.sn === '1996H' && datum.err > 0"}], "mark": {"type": "errorbar", "clip": true, "color": "#111", "thickness": 1.1, "ticks": {"size": 5}}, "encoding": {"yError": {"field": "err"}}},
                {"data": {"name": "obs"}, "transform": [{"filter": "datum.sn === '1996H' && datum.band === 'u'"}], "mark": {"type": "point", "shape": "diamond", "filled": false, "size": 110, "strokeWidth": 1.1, "color": "#111", "opacity": 1},
                 "encoding": {
                   "x": {"field": "age", "type": "quantitative", "scale": {"domain": [-15, 40], "nice": false, "zero": false}, "axis": {"orient": "bottom", "tickCount": 55, "tickSize": -3.5, "labels": false, "title": null}},
                   "y": {"field": "mag", "type": "quantitative", "scale": {"domain": [22.85, 26.93], "reverse": true, "nice": false, "zero": false}, "axis": {"orient": "left", "tickCount": 40, "tickSize": -3.5, "labels": false, "title": null}}}},
                {"data": {"name": "obs"}, "transform": [{"filter": "datum.sn === '1996H' && datum.band === 'l'"}], "mark": {"type": "point", "shape": "circle", "filled": true, "size": 110, "color": "#000", "opacity": 1},
                 "encoding": {
                   "x": {"field": "age", "type": "quantitative", "scale": {"domain": [-15, 40], "nice": false, "zero": false}, "axis": {"orient": "top", "tickCount": 6, "tickSize": -7, "labels": false, "title": null}},
                   "y": {"field": "mag", "type": "quantitative", "scale": {"domain": [22.85, 26.93], "reverse": true, "nice": false, "zero": false}, "axis": {"orient": "right", "tickCount": 5, "tickSize": -7, "labels": false, "title": null}}}},
                {"data": {"name": "notes"}, "transform": [{"filter": "datum.sn === '1996H'"}], "mark": {"type": "text", "align": "left", "baseline": "alphabetic", "font": "Open Sans", "fontSize": 20, "color": "#333"},
                 "encoding": {"text": {"field": "t"},
                   "x": {"field": "age", "type": "quantitative", "scale": {"domain": [-15, 40], "nice": false, "zero": false}, "axis": {"orient": "top", "tickCount": 55, "tickSize": -3.5, "labels": false, "title": null}},
                   "y": {"field": "mag", "type": "quantitative", "scale": {"domain": [22.85, 26.93], "reverse": true, "nice": false, "zero": false}, "axis": {"orient": "right", "tickCount": 40, "tickSize": -3.5, "labels": false, "title": null}}}}
              ],
              "resolve": {"axis": {"x": "independent", "y": "independent"}}
            },
            {
              "width": 335, "height": 197,
              "encoding": {
                "x": {"field": "age", "type": "quantitative", "scale": {"domain": [-15, 40], "nice": false, "zero": false}, "axis": null},
                "y": {"field": "mag", "type": "quantitative", "scale": {"domain": [22.77, 26.68], "reverse": true, "nice": false, "zero": false}, "axis": null}
              },
              "layer": [
                {"data": {"name": "model"}, "transform": [{"filter": "datum.sn === '1996I'"}], "mark": {"type": "line", "clip": true, "color": "#222", "strokeWidth": 1.1, "interpolate": "monotone"},
                 "encoding": {"detail": {"field": "band"},
                   "x": {"field": "age", "type": "quantitative", "scale": {"domain": [-15, 40], "nice": false, "zero": false}, "axis": {"orient": "bottom", "tickCount": 6, "tickSize": -7, "labels": false, "title": null}},
                   "y": {"field": "mag", "type": "quantitative", "scale": {"domain": [22.77, 26.68], "reverse": true, "nice": false, "zero": false}, "axis": {"orient": "left", "tickCount": 5, "tickSize": -7, "format": "d", "labelPadding": 15, "title": "mag.", "titlePadding": 8}}}},
                {"data": {"name": "obs"}, "transform": [{"filter": "datum.sn === '1996I' && datum.err > 0"}], "mark": {"type": "errorbar", "clip": true, "color": "#111", "thickness": 1.1, "ticks": {"size": 5}}, "encoding": {"yError": {"field": "err"}}},
                {"data": {"name": "obs"}, "transform": [{"filter": "datum.sn === '1996I' && datum.band === 'u'"}], "mark": {"type": "point", "shape": "diamond", "filled": false, "size": 110, "strokeWidth": 1.1, "color": "#111", "opacity": 1},
                 "encoding": {
                   "x": {"field": "age", "type": "quantitative", "scale": {"domain": [-15, 40], "nice": false, "zero": false}, "axis": {"orient": "bottom", "tickCount": 55, "tickSize": -3.5, "labels": false, "title": null}},
                   "y": {"field": "mag", "type": "quantitative", "scale": {"domain": [22.77, 26.68], "reverse": true, "nice": false, "zero": false}, "axis": {"orient": "left", "tickCount": 40, "tickSize": -3.5, "labels": false, "title": null}}}},
                {"data": {"name": "obs"}, "transform": [{"filter": "datum.sn === '1996I' && datum.band === 'l'"}], "mark": {"type": "point", "shape": "circle", "filled": true, "size": 110, "color": "#000", "opacity": 1},
                 "encoding": {
                   "x": {"field": "age", "type": "quantitative", "scale": {"domain": [-15, 40], "nice": false, "zero": false}, "axis": {"orient": "top", "tickCount": 6, "tickSize": -7, "labels": false, "title": null}},
                   "y": {"field": "mag", "type": "quantitative", "scale": {"domain": [22.77, 26.68], "reverse": true, "nice": false, "zero": false}, "axis": {"orient": "right", "tickCount": 5, "tickSize": -7, "labels": false, "title": null}}}},
                {"data": {"name": "notes"}, "transform": [{"filter": "datum.sn === '1996I'"}], "mark": {"type": "text", "align": "left", "baseline": "alphabetic", "font": "Open Sans", "fontSize": 20, "color": "#333"},
                 "encoding": {"text": {"field": "t"},
                   "x": {"field": "age", "type": "quantitative", "scale": {"domain": [-15, 40], "nice": false, "zero": false}, "axis": {"orient": "top", "tickCount": 55, "tickSize": -3.5, "labels": false, "title": null}},
                   "y": {"field": "mag", "type": "quantitative", "scale": {"domain": [22.77, 26.68], "reverse": true, "nice": false, "zero": false}, "axis": {"orient": "right", "tickCount": 40, "tickSize": -3.5, "labels": false, "title": null}}}}
              ],
              "resolve": {"axis": {"x": "independent", "y": "independent"}}
            },
            {
              "width": 335, "height": 197,
              "encoding": {
                "x": {"field": "age", "type": "quantitative", "scale": {"domain": [-15, 40], "nice": false, "zero": false}, "axis": null},
                "y": {"field": "mag", "type": "quantitative", "scale": {"domain": [21.57, 25.79], "reverse": true, "nice": false, "zero": false}, "axis": null}
              },
              "layer": [
                {"data": {"name": "model"}, "transform": [{"filter": "datum.sn === '1996J'"}], "mark": {"type": "line", "clip": true, "color": "#222", "strokeWidth": 1.1, "interpolate": "monotone"},
                 "encoding": {"detail": {"field": "band"},
                   "x": {"field": "age", "type": "quantitative", "scale": {"domain": [-15, 40], "nice": false, "zero": false}, "axis": {"orient": "bottom", "tickCount": 6, "tickSize": -7, "labels": false, "title": null}},
                   "y": {"field": "mag", "type": "quantitative", "scale": {"domain": [21.57, 25.79], "reverse": true, "nice": false, "zero": false}, "axis": {"orient": "left", "tickCount": 5, "tickSize": -7, "format": "d", "labelPadding": 15, "title": "mag.", "titlePadding": 8}}}},
                {"data": {"name": "obs"}, "transform": [{"filter": "datum.sn === '1996J' && datum.err > 0"}], "mark": {"type": "errorbar", "clip": true, "color": "#111", "thickness": 1.1, "ticks": {"size": 5}}, "encoding": {"yError": {"field": "err"}}},
                {"data": {"name": "obs"}, "transform": [{"filter": "datum.sn === '1996J' && datum.band === 'u'"}], "mark": {"type": "point", "shape": "diamond", "filled": false, "size": 110, "strokeWidth": 1.1, "color": "#111", "opacity": 1},
                 "encoding": {
                   "x": {"field": "age", "type": "quantitative", "scale": {"domain": [-15, 40], "nice": false, "zero": false}, "axis": {"orient": "bottom", "tickCount": 55, "tickSize": -3.5, "labels": false, "title": null}},
                   "y": {"field": "mag", "type": "quantitative", "scale": {"domain": [21.57, 25.79], "reverse": true, "nice": false, "zero": false}, "axis": {"orient": "left", "tickCount": 40, "tickSize": -3.5, "labels": false, "title": null}}}},
                {"data": {"name": "obs"}, "transform": [{"filter": "datum.sn === '1996J' && datum.band === 'l'"}], "mark": {"type": "point", "shape": "circle", "filled": true, "size": 110, "color": "#000", "opacity": 1},
                 "encoding": {
                   "x": {"field": "age", "type": "quantitative", "scale": {"domain": [-15, 40], "nice": false, "zero": false}, "axis": {"orient": "top", "tickCount": 6, "tickSize": -7, "labels": false, "title": null}},
                   "y": {"field": "mag", "type": "quantitative", "scale": {"domain": [21.57, 25.79], "reverse": true, "nice": false, "zero": false}, "axis": {"orient": "right", "tickCount": 5, "tickSize": -7, "labels": false, "title": null}}}},
                {"data": {"name": "notes"}, "transform": [{"filter": "datum.sn === '1996J'"}], "mark": {"type": "text", "align": "left", "baseline": "alphabetic", "font": "Open Sans", "fontSize": 20, "color": "#333"},
                 "encoding": {"text": {"field": "t"},
                   "x": {"field": "age", "type": "quantitative", "scale": {"domain": [-15, 40], "nice": false, "zero": false}, "axis": {"orient": "top", "tickCount": 55, "tickSize": -3.5, "labels": false, "title": null}},
                   "y": {"field": "mag", "type": "quantitative", "scale": {"domain": [21.57, 25.79], "reverse": true, "nice": false, "zero": false}, "axis": {"orient": "right", "tickCount": 40, "tickSize": -3.5, "labels": false, "title": null}}}}
              ],
              "resolve": {"axis": {"x": "independent", "y": "independent"}}
            },
            {
              "width": 335, "height": 197,
              "encoding": {
                "x": {"field": "age", "type": "quantitative", "scale": {"domain": [-15, 40], "nice": false, "zero": false}, "axis": null},
                "y": {"field": "mag", "type": "quantitative", "scale": {"domain": [22.28, 26.09], "reverse": true, "nice": false, "zero": false}, "axis": null}
              },
              "layer": [
                {"data": {"name": "model"}, "transform": [{"filter": "datum.sn === '1996K'"}], "mark": {"type": "line", "clip": true, "color": "#222", "strokeWidth": 1.1, "interpolate": "monotone"},
                 "encoding": {"detail": {"field": "band"},
                   "x": {"field": "age", "type": "quantitative", "scale": {"domain": [-15, 40], "nice": false, "zero": false}, "axis": {"orient": "bottom", "tickCount": 6, "tickSize": -7, "labels": false, "title": null}},
                   "y": {"field": "mag", "type": "quantitative", "scale": {"domain": [22.28, 26.09], "reverse": true, "nice": false, "zero": false}, "axis": {"orient": "left", "tickCount": 5, "tickSize": -7, "format": "d", "labelPadding": 15, "title": "mag.", "titlePadding": 8}}}},
                {"data": {"name": "obs"}, "transform": [{"filter": "datum.sn === '1996K' && datum.err > 0"}], "mark": {"type": "errorbar", "clip": true, "color": "#111", "thickness": 1.1, "ticks": {"size": 5}}, "encoding": {"yError": {"field": "err"}}},
                {"data": {"name": "obs"}, "transform": [{"filter": "datum.sn === '1996K' && datum.band === 'u'"}], "mark": {"type": "point", "shape": "diamond", "filled": false, "size": 110, "strokeWidth": 1.1, "color": "#111", "opacity": 1},
                 "encoding": {
                   "x": {"field": "age", "type": "quantitative", "scale": {"domain": [-15, 40], "nice": false, "zero": false}, "axis": {"orient": "bottom", "tickCount": 55, "tickSize": -3.5, "labels": false, "title": null}},
                   "y": {"field": "mag", "type": "quantitative", "scale": {"domain": [22.28, 26.09], "reverse": true, "nice": false, "zero": false}, "axis": {"orient": "left", "tickCount": 40, "tickSize": -3.5, "labels": false, "title": null}}}},
                {"data": {"name": "obs"}, "transform": [{"filter": "datum.sn === '1996K' && datum.band === 'l'"}], "mark": {"type": "point", "shape": "circle", "filled": true, "size": 110, "color": "#000", "opacity": 1},
                 "encoding": {
                   "x": {"field": "age", "type": "quantitative", "scale": {"domain": [-15, 40], "nice": false, "zero": false}, "axis": {"orient": "top", "tickCount": 6, "tickSize": -7, "labels": false, "title": null}},
                   "y": {"field": "mag", "type": "quantitative", "scale": {"domain": [22.28, 26.09], "reverse": true, "nice": false, "zero": false}, "axis": {"orient": "right", "tickCount": 5, "tickSize": -7, "labels": false, "title": null}}}},
                {"data": {"name": "notes"}, "transform": [{"filter": "datum.sn === '1996K'"}], "mark": {"type": "text", "align": "left", "baseline": "alphabetic", "font": "Open Sans", "fontSize": 20, "color": "#333"},
                 "encoding": {"text": {"field": "t"},
                   "x": {"field": "age", "type": "quantitative", "scale": {"domain": [-15, 40], "nice": false, "zero": false}, "axis": {"orient": "top", "tickCount": 55, "tickSize": -3.5, "labels": false, "title": null}},
                   "y": {"field": "mag", "type": "quantitative", "scale": {"domain": [22.28, 26.09], "reverse": true, "nice": false, "zero": false}, "axis": {"orient": "right", "tickCount": 40, "tickSize": -3.5, "labels": false, "title": null}}}}
              ],
              "resolve": {"axis": {"x": "independent", "y": "independent"}}
            },
            {
              "width": 335, "height": 197,
              "encoding": {
                "x": {"field": "age", "type": "quantitative", "scale": {"domain": [-15, 40], "nice": false, "zero": false}, "axis": null},
                "y": {"field": "mag", "type": "quantitative", "scale": {"domain": [22.36, 26.12], "reverse": true, "nice": false, "zero": false}, "axis": null}
              },
              "layer": [
                {"data": {"name": "model"}, "transform": [{"filter": "datum.sn === '1996U'"}], "mark": {"type": "line", "clip": true, "color": "#222", "strokeWidth": 1.1, "interpolate": "monotone"},
                 "encoding": {"detail": {"field": "band"},
                   "x": {"field": "age", "type": "quantitative", "scale": {"domain": [-15, 40], "nice": false, "zero": false}, "axis": {"orient": "bottom", "tickCount": 6, "tickSize": -7, "labels": false, "title": null}},
                   "y": {"field": "mag", "type": "quantitative", "scale": {"domain": [22.36, 26.12], "reverse": true, "nice": false, "zero": false}, "axis": {"orient": "left", "tickCount": 5, "tickSize": -7, "format": "d", "labelPadding": 15, "title": "mag.", "titlePadding": 8}}}},
                {"data": {"name": "obs"}, "transform": [{"filter": "datum.sn === '1996U' && datum.err > 0"}], "mark": {"type": "errorbar", "clip": true, "color": "#111", "thickness": 1.1, "ticks": {"size": 5}}, "encoding": {"yError": {"field": "err"}}},
                {"data": {"name": "obs"}, "transform": [{"filter": "datum.sn === '1996U' && datum.band === 'u'"}], "mark": {"type": "point", "shape": "diamond", "filled": false, "size": 110, "strokeWidth": 1.1, "color": "#111", "opacity": 1},
                 "encoding": {
                   "x": {"field": "age", "type": "quantitative", "scale": {"domain": [-15, 40], "nice": false, "zero": false}, "axis": {"orient": "bottom", "tickCount": 55, "tickSize": -3.5, "labels": false, "title": null}},
                   "y": {"field": "mag", "type": "quantitative", "scale": {"domain": [22.36, 26.12], "reverse": true, "nice": false, "zero": false}, "axis": {"orient": "left", "tickCount": 40, "tickSize": -3.5, "labels": false, "title": null}}}},
                {"data": {"name": "obs"}, "transform": [{"filter": "datum.sn === '1996U' && datum.band === 'l'"}], "mark": {"type": "point", "shape": "circle", "filled": true, "size": 110, "color": "#000", "opacity": 1},
                 "encoding": {
                   "x": {"field": "age", "type": "quantitative", "scale": {"domain": [-15, 40], "nice": false, "zero": false}, "axis": {"orient": "top", "tickCount": 6, "tickSize": -7, "labels": false, "title": null}},
                   "y": {"field": "mag", "type": "quantitative", "scale": {"domain": [22.36, 26.12], "reverse": true, "nice": false, "zero": false}, "axis": {"orient": "right", "tickCount": 5, "tickSize": -7, "labels": false, "title": null}}}},
                {"data": {"name": "notes"}, "transform": [{"filter": "datum.sn === '1996U'"}], "mark": {"type": "text", "align": "left", "baseline": "alphabetic", "font": "Open Sans", "fontSize": 20, "color": "#333"},
                 "encoding": {"text": {"field": "t"},
                   "x": {"field": "age", "type": "quantitative", "scale": {"domain": [-15, 40], "nice": false, "zero": false}, "axis": {"orient": "top", "tickCount": 55, "tickSize": -3.5, "labels": false, "title": null}},
                   "y": {"field": "mag", "type": "quantitative", "scale": {"domain": [22.36, 26.12], "reverse": true, "nice": false, "zero": false}, "axis": {"orient": "right", "tickCount": 40, "tickSize": -3.5, "labels": false, "title": null}}}},
                {"data": {"name": "red"}, "transform": [{"filter": "datum.sn === '1996U'"}], "mark": {"type": "rule", "color": "#ff0000", "opacity": 1}, "encoding": {"x2": {"field": "age2"}, "y2": {"field": "mag2"}, "strokeWidth": {"field": "kind", "type": "nominal", "scale": {"domain": ["shaft", "pointer"], "range": [5, 6.5]}, "legend": null}}},
                {"data": {"name": "heads"}, "transform": [{"filter": "datum.sn === '1996U'"}], "mark": {"type": "point", "filled": true, "size": 200, "color": "#ff0000", "opacity": 1}, "encoding": {"shape": {"field": "dir", "type": "nominal", "scale": {"domain": ["left", "right", "up", "down"], "range": ["triangle-left", "triangle-right", "triangle-up", "triangle-down"]}, "legend": null}}}
              ],
              "resolve": {"axis": {"x": "independent", "y": "independent"}}
            },
            {
              "width": 335, "height": 197,
              "encoding": {
                "x": {"field": "age", "type": "quantitative", "scale": {"domain": [-15, 40], "nice": false, "zero": false}, "axis": null},
                "y": {"field": "mag", "type": "quantitative", "scale": {"domain": [22.35, 26.68], "reverse": true, "nice": false, "zero": false}, "axis": null}
              },
              "layer": [
                {"data": {"name": "model"}, "transform": [{"filter": "datum.sn === '1997ce'"}], "mark": {"type": "line", "clip": true, "color": "#222", "strokeWidth": 1.1, "interpolate": "monotone"},
                 "encoding": {"detail": {"field": "band"},
                   "x": {"field": "age", "type": "quantitative", "scale": {"domain": [-15, 40], "nice": false, "zero": false}, "axis": {"orient": "bottom", "tickCount": 6, "tickSize": -7, "labels": false, "title": null}},
                   "y": {"field": "mag", "type": "quantitative", "scale": {"domain": [22.35, 26.68], "reverse": true, "nice": false, "zero": false}, "axis": {"orient": "left", "tickCount": 5, "tickSize": -7, "format": "d", "labelPadding": 15, "title": "mag.", "titlePadding": 8}}}},
                {"data": {"name": "obs"}, "transform": [{"filter": "datum.sn === '1997ce' && datum.err > 0"}], "mark": {"type": "errorbar", "clip": true, "color": "#111", "thickness": 1.1, "ticks": {"size": 5}}, "encoding": {"yError": {"field": "err"}}},
                {"data": {"name": "obs"}, "transform": [{"filter": "datum.sn === '1997ce' && datum.band === 'u'"}], "mark": {"type": "point", "shape": "diamond", "filled": false, "size": 110, "strokeWidth": 1.1, "color": "#111", "opacity": 1},
                 "encoding": {
                   "x": {"field": "age", "type": "quantitative", "scale": {"domain": [-15, 40], "nice": false, "zero": false}, "axis": {"orient": "bottom", "tickCount": 55, "tickSize": -3.5, "labels": false, "title": null}},
                   "y": {"field": "mag", "type": "quantitative", "scale": {"domain": [22.35, 26.68], "reverse": true, "nice": false, "zero": false}, "axis": {"orient": "left", "tickCount": 40, "tickSize": -3.5, "labels": false, "title": null}}}},
                {"data": {"name": "obs"}, "transform": [{"filter": "datum.sn === '1997ce' && datum.band === 'l'"}], "mark": {"type": "point", "shape": "circle", "filled": true, "size": 110, "color": "#000", "opacity": 1},
                 "encoding": {
                   "x": {"field": "age", "type": "quantitative", "scale": {"domain": [-15, 40], "nice": false, "zero": false}, "axis": {"orient": "top", "tickCount": 6, "tickSize": -7, "labels": false, "title": null}},
                   "y": {"field": "mag", "type": "quantitative", "scale": {"domain": [22.35, 26.68], "reverse": true, "nice": false, "zero": false}, "axis": {"orient": "right", "tickCount": 5, "tickSize": -7, "labels": false, "title": null}}}},
                {"data": {"name": "notes"}, "transform": [{"filter": "datum.sn === '1997ce'"}], "mark": {"type": "text", "align": "left", "baseline": "alphabetic", "font": "Open Sans", "fontSize": 20, "color": "#333"},
                 "encoding": {"text": {"field": "t"},
                   "x": {"field": "age", "type": "quantitative", "scale": {"domain": [-15, 40], "nice": false, "zero": false}, "axis": {"orient": "top", "tickCount": 55, "tickSize": -3.5, "labels": false, "title": null}},
                   "y": {"field": "mag", "type": "quantitative", "scale": {"domain": [22.35, 26.68], "reverse": true, "nice": false, "zero": false}, "axis": {"orient": "right", "tickCount": 40, "tickSize": -3.5, "labels": false, "title": null}}}}
              ],
              "resolve": {"axis": {"x": "independent", "y": "independent"}}
            },
            {
              "width": 335, "height": 197,
              "encoding": {
                "x": {"field": "age", "type": "quantitative", "scale": {"domain": [-15, 40], "nice": false, "zero": false}, "axis": null},
                "y": {"field": "mag", "type": "quantitative", "scale": {"domain": [22.84, 26.53], "reverse": true, "nice": false, "zero": false}, "axis": null}
              },
              "layer": [
                {"data": {"name": "model"}, "transform": [{"filter": "datum.sn === '1997cj'"}], "mark": {"type": "line", "clip": true, "color": "#222", "strokeWidth": 1.1, "interpolate": "monotone"},
                 "encoding": {"detail": {"field": "band"},
                   "x": {"field": "age", "type": "quantitative", "scale": {"domain": [-15, 40], "nice": false, "zero": false}, "axis": {"orient": "bottom", "tickCount": 6, "tickSize": -7, "labels": false, "title": null}},
                   "y": {"field": "mag", "type": "quantitative", "scale": {"domain": [22.84, 26.53], "reverse": true, "nice": false, "zero": false}, "axis": {"orient": "left", "tickCount": 5, "tickSize": -7, "format": "d", "labelPadding": 15, "title": "mag.", "titlePadding": 8}}}},
                {"data": {"name": "obs"}, "transform": [{"filter": "datum.sn === '1997cj' && datum.err > 0"}], "mark": {"type": "errorbar", "clip": true, "color": "#111", "thickness": 1.1, "ticks": {"size": 5}}, "encoding": {"yError": {"field": "err"}}},
                {"data": {"name": "obs"}, "transform": [{"filter": "datum.sn === '1997cj' && datum.band === 'u'"}], "mark": {"type": "point", "shape": "diamond", "filled": false, "size": 110, "strokeWidth": 1.1, "color": "#111", "opacity": 1},
                 "encoding": {
                   "x": {"field": "age", "type": "quantitative", "scale": {"domain": [-15, 40], "nice": false, "zero": false}, "axis": {"orient": "bottom", "tickCount": 55, "tickSize": -3.5, "labels": false, "title": null}},
                   "y": {"field": "mag", "type": "quantitative", "scale": {"domain": [22.84, 26.53], "reverse": true, "nice": false, "zero": false}, "axis": {"orient": "left", "tickCount": 40, "tickSize": -3.5, "labels": false, "title": null}}}},
                {"data": {"name": "obs"}, "transform": [{"filter": "datum.sn === '1997cj' && datum.band === 'l'"}], "mark": {"type": "point", "shape": "circle", "filled": true, "size": 110, "color": "#000", "opacity": 1},
                 "encoding": {
                   "x": {"field": "age", "type": "quantitative", "scale": {"domain": [-15, 40], "nice": false, "zero": false}, "axis": {"orient": "top", "tickCount": 6, "tickSize": -7, "labels": false, "title": null}},
                   "y": {"field": "mag", "type": "quantitative", "scale": {"domain": [22.84, 26.53], "reverse": true, "nice": false, "zero": false}, "axis": {"orient": "right", "tickCount": 5, "tickSize": -7, "labels": false, "title": null}}}},
                {"data": {"name": "notes"}, "transform": [{"filter": "datum.sn === '1997cj'"}], "mark": {"type": "text", "align": "left", "baseline": "alphabetic", "font": "Open Sans", "fontSize": 20, "color": "#333"},
                 "encoding": {"text": {"field": "t"},
                   "x": {"field": "age", "type": "quantitative", "scale": {"domain": [-15, 40], "nice": false, "zero": false}, "axis": {"orient": "top", "tickCount": 55, "tickSize": -3.5, "labels": false, "title": null}},
                   "y": {"field": "mag", "type": "quantitative", "scale": {"domain": [22.84, 26.53], "reverse": true, "nice": false, "zero": false}, "axis": {"orient": "right", "tickCount": 40, "tickSize": -3.5, "labels": false, "title": null}}}},
                {"data": {"name": "red"}, "transform": [{"filter": "datum.sn === '1997cj'"}], "mark": {"type": "rule", "color": "#ff0000", "opacity": 1}, "encoding": {"x2": {"field": "age2"}, "y2": {"field": "mag2"}, "strokeWidth": {"field": "kind", "type": "nominal", "scale": {"domain": ["shaft", "pointer"], "range": [5, 6.5]}, "legend": null}}},
                {"data": {"name": "heads"}, "transform": [{"filter": "datum.sn === '1997cj'"}], "mark": {"type": "point", "filled": true, "size": 200, "color": "#ff0000", "opacity": 1}, "encoding": {"shape": {"field": "dir", "type": "nominal", "scale": {"domain": ["left", "right", "up", "down"], "range": ["triangle-left", "triangle-right", "triangle-up", "triangle-down"]}, "legend": null}}}
              ],
              "resolve": {"axis": {"x": "independent", "y": "independent"}}
            },
            {
              "width": 335, "height": 196,
              "encoding": {
                "x": {"field": "age", "type": "quantitative", "scale": {"domain": [-15, 40], "nice": false, "zero": false}, "axis": null},
                "y": {"field": "mag", "type": "quantitative", "scale": {"domain": [22.39, 26.08], "reverse": true, "nice": false, "zero": false}, "axis": null}
              },
              "layer": [
                {"data": {"name": "model"}, "transform": [{"filter": "datum.sn === '1995K'"}], "mark": {"type": "line", "clip": true, "color": "#222", "strokeWidth": 1.1, "interpolate": "monotone"},
                 "encoding": {"detail": {"field": "band"},
                   "x": {"field": "age", "type": "quantitative", "scale": {"domain": [-15, 40], "nice": false, "zero": false}, "axis": {"orient": "bottom", "tickCount": 6, "tickSize": -7, "format": "d", "labelPadding": 17, "labelFontSize": 15, "title": "Age (days)", "titleFontSize": 15, "titlePadding": 3}},
                   "y": {"field": "mag", "type": "quantitative", "scale": {"domain": [22.39, 26.08], "reverse": true, "nice": false, "zero": false}, "axis": {"orient": "left", "tickCount": 5, "tickSize": -7, "format": "d", "labelPadding": 15, "title": "mag.", "titlePadding": 8}}}},
                {"data": {"name": "obs"}, "transform": [{"filter": "datum.sn === '1995K' && datum.err > 0"}], "mark": {"type": "errorbar", "clip": true, "color": "#111", "thickness": 1.1, "ticks": {"size": 5}}, "encoding": {"yError": {"field": "err"}}},
                {"data": {"name": "obs"}, "transform": [{"filter": "datum.sn === '1995K' && datum.band === 'u'"}], "mark": {"type": "point", "shape": "diamond", "filled": false, "size": 110, "strokeWidth": 1.1, "color": "#111", "opacity": 1},
                 "encoding": {
                   "x": {"field": "age", "type": "quantitative", "scale": {"domain": [-15, 40], "nice": false, "zero": false}, "axis": {"orient": "bottom", "tickCount": 55, "tickSize": -3.5, "labels": false, "title": null}},
                   "y": {"field": "mag", "type": "quantitative", "scale": {"domain": [22.39, 26.08], "reverse": true, "nice": false, "zero": false}, "axis": {"orient": "left", "tickCount": 40, "tickSize": -3.5, "labels": false, "title": null}}}},
                {"data": {"name": "obs"}, "transform": [{"filter": "datum.sn === '1995K' && datum.band === 'l'"}], "mark": {"type": "point", "shape": "circle", "filled": true, "size": 110, "color": "#000", "opacity": 1},
                 "encoding": {
                   "x": {"field": "age", "type": "quantitative", "scale": {"domain": [-15, 40], "nice": false, "zero": false}, "axis": {"orient": "top", "tickCount": 6, "tickSize": -7, "labels": false, "title": null}},
                   "y": {"field": "mag", "type": "quantitative", "scale": {"domain": [22.39, 26.08], "reverse": true, "nice": false, "zero": false}, "axis": {"orient": "right", "tickCount": 5, "tickSize": -7, "labels": false, "title": null}}}},
                {"data": {"name": "notes"}, "transform": [{"filter": "datum.sn === '1995K'"}], "mark": {"type": "text", "align": "left", "baseline": "alphabetic", "font": "Open Sans", "fontSize": 20, "color": "#333"},
                 "encoding": {"text": {"field": "t"},
                   "x": {"field": "age", "type": "quantitative", "scale": {"domain": [-15, 40], "nice": false, "zero": false}, "axis": {"orient": "top", "tickCount": 55, "tickSize": -3.5, "labels": false, "title": null}},
                   "y": {"field": "mag", "type": "quantitative", "scale": {"domain": [22.39, 26.08], "reverse": true, "nice": false, "zero": false}, "axis": {"orient": "right", "tickCount": 40, "tickSize": -3.5, "labels": false, "title": null}}}}
              ],
              "resolve": {"axis": {"x": "independent", "y": "independent"}}
            },
            {
              "width": 335, "height": 196,
              "encoding": {
                "x": {"field": "age", "type": "quantitative", "scale": {"domain": [-15, 40], "nice": false, "zero": false}, "axis": null},
                "y": {"field": "mag", "type": "quantitative", "scale": {"domain": [24.09, 28.04], "reverse": true, "nice": false, "zero": false}, "axis": null}
              },
              "layer": [
                {"data": {"name": "model"}, "transform": [{"filter": "datum.sn === '1997ck'"}], "mark": {"type": "line", "clip": true, "color": "#222", "strokeWidth": 1.1, "interpolate": "monotone"},
                 "encoding": {"detail": {"field": "band"},
                   "x": {"field": "age", "type": "quantitative", "scale": {"domain": [-15, 40], "nice": false, "zero": false}, "axis": {"orient": "bottom", "tickCount": 6, "tickSize": -7, "format": "d", "labelPadding": 17, "labelFontSize": 15, "title": "Age (days)", "titleFontSize": 15, "titlePadding": 3}},
                   "y": {"field": "mag", "type": "quantitative", "scale": {"domain": [24.09, 28.04], "reverse": true, "nice": false, "zero": false}, "axis": {"orient": "left", "tickCount": 5, "tickSize": -7, "format": "d", "labelPadding": 15, "title": "mag.", "titlePadding": 8}}}},
                {"data": {"name": "obs"}, "transform": [{"filter": "datum.sn === '1997ck' && datum.err > 0"}], "mark": {"type": "errorbar", "clip": true, "color": "#111", "thickness": 1.1, "ticks": {"size": 5}}, "encoding": {"yError": {"field": "err"}}},
                {"data": {"name": "obs"}, "transform": [{"filter": "datum.sn === '1997ck' && datum.band === 'u'"}], "mark": {"type": "point", "shape": "diamond", "filled": false, "size": 110, "strokeWidth": 1.1, "color": "#111", "opacity": 1},
                 "encoding": {
                   "x": {"field": "age", "type": "quantitative", "scale": {"domain": [-15, 40], "nice": false, "zero": false}, "axis": {"orient": "bottom", "tickCount": 55, "tickSize": -3.5, "labels": false, "title": null}},
                   "y": {"field": "mag", "type": "quantitative", "scale": {"domain": [24.09, 28.04], "reverse": true, "nice": false, "zero": false}, "axis": {"orient": "left", "tickCount": 40, "tickSize": -3.5, "labels": false, "title": null}}}},
                {"data": {"name": "obs"}, "transform": [{"filter": "datum.sn === '1997ck' && datum.band === 'l'"}], "mark": {"type": "point", "shape": "circle", "filled": true, "size": 110, "color": "#000", "opacity": 1},
                 "encoding": {
                   "x": {"field": "age", "type": "quantitative", "scale": {"domain": [-15, 40], "nice": false, "zero": false}, "axis": {"orient": "top", "tickCount": 6, "tickSize": -7, "labels": false, "title": null}},
                   "y": {"field": "mag", "type": "quantitative", "scale": {"domain": [24.09, 28.04], "reverse": true, "nice": false, "zero": false}, "axis": {"orient": "right", "tickCount": 5, "tickSize": -7, "labels": false, "title": null}}}},
                {"data": {"name": "notes"}, "transform": [{"filter": "datum.sn === '1997ck'"}], "mark": {"type": "text", "align": "left", "baseline": "alphabetic", "font": "Open Sans", "fontSize": 20, "color": "#333"},
                 "encoding": {"text": {"field": "t"},
                   "x": {"field": "age", "type": "quantitative", "scale": {"domain": [-15, 40], "nice": false, "zero": false}, "axis": {"orient": "top", "tickCount": 55, "tickSize": -3.5, "labels": false, "title": null}},
                   "y": {"field": "mag", "type": "quantitative", "scale": {"domain": [24.09, 28.04], "reverse": true, "nice": false, "zero": false}, "axis": {"orient": "right", "tickCount": 40, "tickSize": -3.5, "labels": false, "title": null}}}},
                {"data": {"name": "red"}, "transform": [{"filter": "datum.sn === '1997ck'"}], "mark": {"type": "rule", "color": "#ff0000", "opacity": 1}, "encoding": {"x2": {"field": "age2"}, "y2": {"field": "mag2"}, "strokeWidth": {"field": "kind", "type": "nominal", "scale": {"domain": ["shaft", "pointer"], "range": [5, 6.5]}, "legend": null}}},
                {"data": {"name": "heads"}, "transform": [{"filter": "datum.sn === '1997ck'"}], "mark": {"type": "point", "filled": true, "size": 200, "color": "#ff0000", "opacity": 1}, "encoding": {"shape": {"field": "dir", "type": "nominal", "scale": {"domain": ["left", "right", "up", "down"], "range": ["triangle-left", "triangle-right", "triangle-up", "triangle-down"]}, "legend": null}}}
              ],
              "resolve": {"axis": {"x": "independent", "y": "independent"}}
            }
          ]
        }
      ]
    }
  ]
}
